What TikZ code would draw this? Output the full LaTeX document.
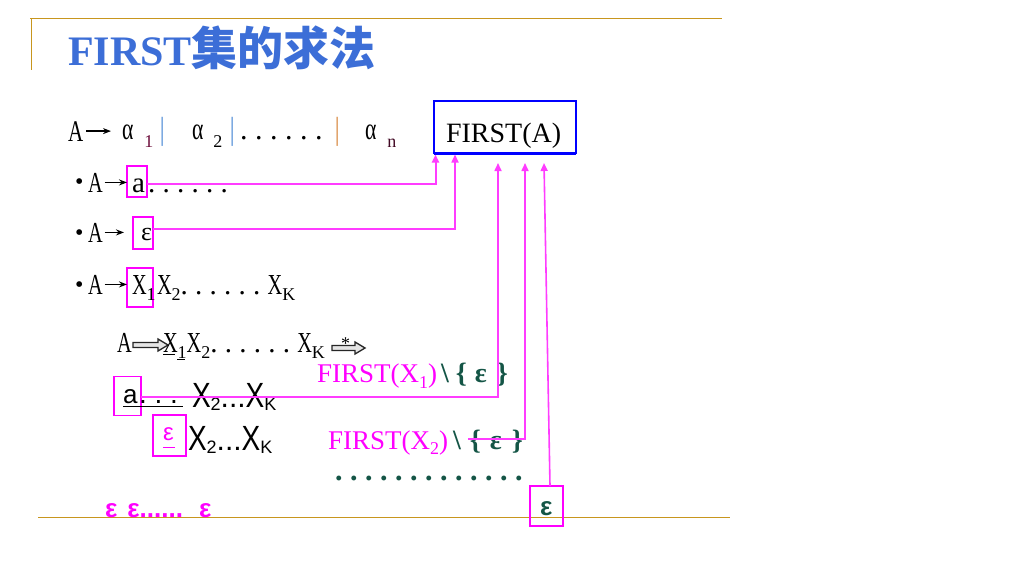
\documentclass[tikz,border=0pt]{standalone}
\usepackage{fontspec}
\usepackage{graphicx}
\setmainfont{Liberation Serif}
\newfontfamily\sansf{Liberation Sans}
\newfontfamily\cjkf{Noto Sans CJK SC}
\usetikzlibrary{arrows.meta}
\definecolor{titleblue}{RGB}{60,110,215}
\definecolor{gold}{RGB}{200,150,30}
\definecolor{mag}{RGB}{255,0,255}
\definecolor{magl}{RGB}{255,60,255}
\definecolor{dgreen}{RGB}{20,85,70}
\definecolor{subred}{RGB}{110,15,60}
\definecolor{barblue}{RGB}{125,170,225}
\definecolor{bartan}{RGB}{225,165,110}
\definecolor{boxblue}{RGB}{0,0,255}
\newcommand\myfs[1]{\fontsize{#1}{#1}\selectfont}
\newcommand\nrw[1]{\scalebox{0.7}[1]{#1}}
\newcommand\sbs[1]{\raisebox{-6pt}{\myfs{18}#1}}
\newcommand\Xsub[1]{\nrw{X}\sbs{#1}}
\newcommand\bigX[1]{\scalebox{0.8}[1]{\myfs{35}X}\raisebox{-3pt}{\myfs{18}#1}}
% hollow arrow: start point, length
\newcommand\hollowarr[2]{\draw[draw=black!85, fill=gray!20, line width=1.3pt, line join=miter, shift={#1}]
  (0,-2.5) -- (#2-10,-2.5) -- (#2-10,-6) -- (#2,0) -- (#2-10,6) -- (#2-10,2.5) -- (0,2.5) -- cycle;}
\begin{document}
\frenchspacing
\begin{tikzpicture}[x=1pt,y=-1pt,
  every node/.style={inner sep=0pt, outer sep=0pt},
  txt/.style={anchor=base west},
  mbox/.style={draw=mag, line width=1.4pt},
  link/.style={draw=magl, line width=1.6pt},
  tip/.style={-{Triangle[width=7pt,length=8pt]}},
  sarr/.style={-{Stealth[length=8pt,width=6pt]}, line width=1.8pt}]
\useasboundingbox (0,0) rectangle (1024,576);
\fill[white] (0,0) rectangle (1024,576);
% frame lines
\draw[gold, line width=1pt] (30,18) -- (722,18);
\draw[gold, line width=1pt] (31,18) -- (31,70);
\draw[gold, line width=1pt] (38,517) -- (730,517);
% title
\node[txt, text=titleblue] (title) at (68,65) {\myfs{42}\bfseries FIRST{\cjkf\myfs{46}集的求法}};
% row 1
\node[txt] (r1A) at (68,141) {\myfs{30}\nrw{A}};
\node[txt] (r1a1) at (122,139) {\myfs{31}\nrw{α}\hspace{11pt}\textcolor{subred}{\raisebox{-8pt}{\myfs{18}1}}};
\draw[sarr] ([xshift=3pt]r1A.east) -- ([xshift=-11pt]r1A.east -| r1a1.west);
\node[txt, text=barblue] (r1b1) at (159,139) {\myfs{32}|};
\node[txt] (r1a2) at (192,139) {\myfs{31}\nrw{α}\hspace{10pt}\raisebox{-8pt}{\myfs{18}2}};
\node[txt, text=barblue] (r1b2) at (229,139) {\myfs{32}|};
\node[txt] (r1d) at (240,139) {\myfs{30}. . . . . .};
\node[txt, text=bartan] (r1b3) at (334,139) {\myfs{32}|};
\node[txt] (r1an) at (365,139) {\myfs{31}\nrw{α}\hspace{11pt}\textcolor{subred!60!black}{\raisebox{-8pt}{\myfs{18}n}}};
% FIRST(A)
\node[draw=boxblue, line width=1.5pt, minimum width=142pt, minimum height=52pt] (fa) at (505,127) {};
\draw[boxblue, line width=3pt] (fa.south west) -- (fa.south east);
\node[txt] (fat) at (446,142) {\myfs{28}FIRST(A)};
% row 2
\node[txt] (bul2) at (75,189) {\myfs{24}•};
\node[txt] (r2A) at (88,192) {\myfs{29}\nrw{A}};
\node[mbox, minimum width=20pt, minimum height=31pt] (b2) at (137,181.5) {};
\node[txt] (r2a) at (132,192) {\myfs{29}a};
\node[txt] (r2d) at (148,192) {\myfs{29}. . . . . .};
\draw[sarr] ([xshift=2pt]r2A.east) -- (r2A.east -| b2.west);
\coordinate (t1) at ([xshift=1.5pt, yshift=-1.5pt]fa.south west);
\draw[link, line width=2pt, tip] ([yshift=-2.5pt]b2.east) -| (t1);
% row 3
\node[txt] (bul3) at (75,240) {\myfs{24}•};
\node[txt] (r3A) at (88,242) {\myfs{29}\nrw{A}};
\node[mbox, minimum width=20pt, minimum height=32pt] (b3) at (143,233) {};
\node[txt] (r3e) at (141,240) {\myfs{26}ε};
\draw[sarr] ([xshift=2pt]r3A.east) -- ([xshift=-9pt]r3A.east -| b3.west);
\coordinate (t2) at ([xshift=21pt, yshift=-1.5pt]fa.south west);
\draw[link, tip] ([yshift=4pt]b3.east) -| (t2);
% row 4
\node[txt] (bul4) at (75,292) {\myfs{24}•};
\node[txt] (r4A) at (88,294) {\myfs{29}\nrw{A}};
\node[mbox, minimum width=26pt, minimum height=39pt] (b4) at (140,287.5) {};
\node[txt] (r4x1) at (132,294) {\myfs{29}\Xsub{1}};
\node[txt] (r4rest) at (157,294) {\myfs{29}\Xsub{2}. . . . . . \Xsub{K}};
\draw[sarr] ([xshift=2pt]r4A.east) -- (r4A.east -| b4.west);
% row 5
\node[txt] (r5A) at (117,352) {\myfs{29}\nrw{A}};
\hollowarr{(133,345)}{35}
\node[txt] (r5x) at (163,352) {\myfs{29}\Xsub{1}\Xsub{2}. . . . . . \Xsub{K}};
\draw[line width=1pt] ([yshift=-2pt]r5x.base west) -- ++(12,0);
\draw[line width=1pt] ([xshift=14pt,yshift=-7pt]r5x.base west) -- ++(8,0);
\hollowarr{(332,348)}{33}
\node[txt] (star) at (341,349) {\myfs{18}*};
% FIRST(X1)
\node[txt, text=mag] (fx1) at (317,382) {\myfs{27}FIRST(X\raisebox{-6pt}{\myfs{18}1})};
\node[txt, text=dgreen] (e1) at (441,382) {\myfs{28}\bfseries\textbackslash\hspace{7pt}\{\hspace{8pt}ε\hspace{10pt}\}};
% row 6
\node[mbox, minimum width=27pt, minimum height=39pt] (b6) at (127.5,396) {};
\node[txt] (r6a) at (123,403) {\sansf\myfs{26}a};
\node[txt] (r6d) at (139,403) {\sansf\myfs{28}. . .};
\draw[line width=1pt] ([yshift=-3pt]r6a.base west) -- ++(60,0);
\node[txt] (r6x) at (192,407) {\sansf\myfs{30}\bigX{2}...\bigX{K}};
\coordinate (t3) at (498,163);
\draw[link, tip] ([yshift=-1pt]b6.east) -| (t3);
% row 7
\node[mbox, minimum width=33pt, minimum height=41pt] (b7) at (169.5,435.5) {};
\node[txt, text=mag] (r7e) at (163,440) {\sansf\myfs{24}ε};
\draw[mag, line width=1pt] ([yshift=-7pt]r7e.base west) -- ++(12,0);
\node[txt] (r7x) at (188,450) {\sansf\myfs{30}\bigX{2}...\bigX{K}};
% FIRST(X2)
\node[txt, text=mag] (fx2) at (328,449) {\myfs{27}FIRST(X\raisebox{-5pt}{\myfs{18}2})};
\node[txt, text=dgreen] (e2) at (453,449) {\myfs{28}\bfseries\textbackslash\hspace{9pt}\{\hspace{9pt}ε\hspace{10pt}\}};
\coordinate (c2) at ([xshift=15pt, yshift=10pt]e2.base west);
\coordinate (t4) at (525,163);
\draw[link, tip] (c2) -| (t4);
% dots
\node[txt, text=dgreen] (dots) at (335,480) {\myfs{30}\bfseries . . . . . . . . . . . . .};
% bottom epsilon box
\node[mbox, minimum width=33pt, minimum height=40pt] (b8) at (546.5,506) {};
\node[txt, text=dgreen] (r8e) at (540,515) {\sansf\bfseries\myfs{26}ε};
\coordinate (t5) at (544,163);
\draw[link, tip] ([xshift=3.5pt]b8.north) -- (t5);
% bottom epsilons
\node[txt, text=mag] (epsrow) at (105,517) {\sansf\bfseries\myfs{26}ε\hspace{10pt}ε......\hspace{16pt}ε};
\end{tikzpicture}
\end{document}
